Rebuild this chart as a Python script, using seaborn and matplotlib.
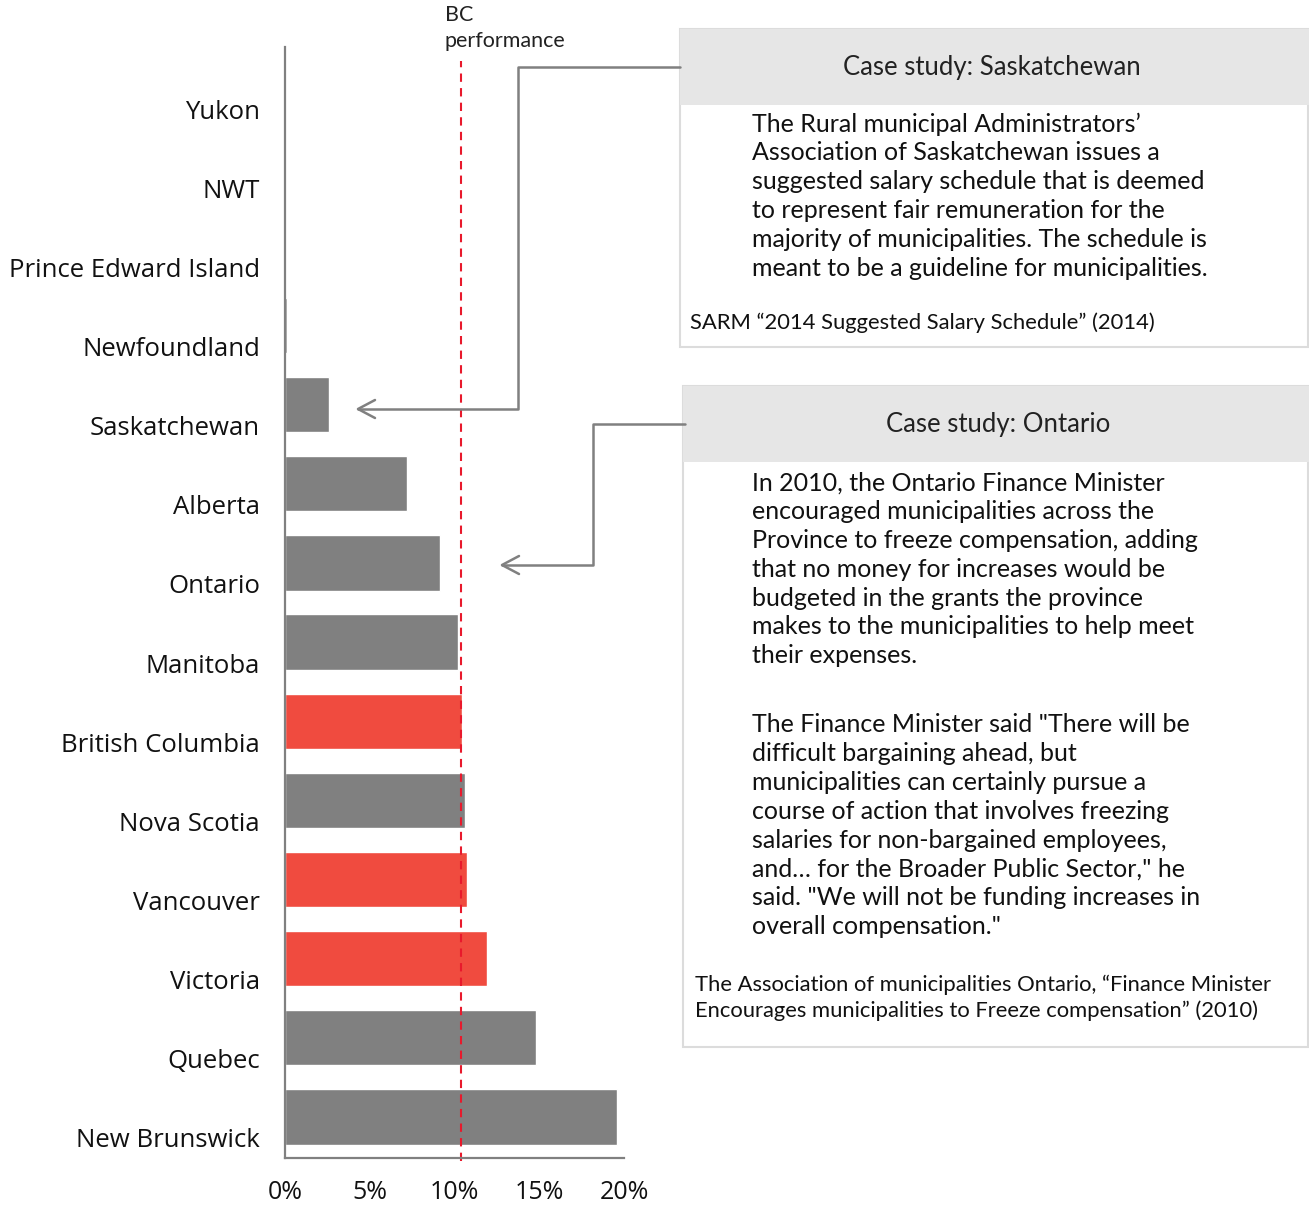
import numpy as np
import pandas as pd
import matplotlib
matplotlib.use('Agg')
import matplotlib.pyplot as plt
import matplotlib.transforms as mtransforms
from matplotlib.patches import Rectangle
from matplotlib.lines import Line2D
import seaborn as sns

# Data (share, %)
regions = ['Yukon', 'NWT', 'Prince Edward Island', 'Newfoundland', 'Saskatchewan',
           'Alberta', 'Ontario', 'Manitoba', 'British Columbia', 'Nova Scotia',
           'Vancouver', 'Victoria', 'Quebec', 'New Brunswick']
values = [0, 0, 0, 0.1, 2.6, 7.2, 9.15, 10.2, 10.45, 10.6, 10.75, 11.9, 14.8, 19.6]
bc_group = ['British Columbia', 'Vancouver', 'Victoria']
bc_performance = 10.4
x_ticks = [0, 5, 10, 15, 20]

sask_title = 'Case study: Saskatchewan'
sask_lines = ["The Rural municipal Administrators\u2019",
              'Association of Saskatchewan issues a',
              'suggested salary schedule that is deemed',
              'to represent fair remuneration for the',
              'majority of municipalities. The schedule is',
              'meant to be a guideline for municipalities.']
sask_source = ['SARM \u201c2014 Suggested Salary Schedule\u201d (2014)']

ont_title = 'Case study: Ontario'
ont_para1 = ['In 2010, the Ontario Finance Minister',
             'encouraged municipalities across the',
             'Province to freeze compensation, adding',
             'that no money for increases would be',
             'budgeted in the grants the province',
             'makes to the municipalities to help meet',
             'their expenses.']
ont_para2 = ['The Finance Minister said "There will be',
             'difficult bargaining ahead, but',
             'municipalities can certainly pursue a',
             'course of action that involves freezing',
             'salaries for non-bargained employees,',
             'and\u2026 for the Broader Public Sector," he',
             'said. "We will not be funding increases in',
             'overall compensation."']
ont_source = ['The Association of municipalities Ontario, \u201cFinance Minister',
              'Encourages municipalities to Freeze compensation\u201d (2010)']

df = pd.DataFrame({'region': regions, 'value': values})
df['group'] = np.where(df['region'].isin(bc_group), 'BC', 'Other')

sns.set_style('white')
plt.rcParams['font.family'] = ['Lato', 'DejaVu Sans']

W, H = 1309, 1205
fig = plt.figure(figsize=(W / 100, H / 100), dpi=100)
ax = fig.add_axes([285 / W, 1 - 1158 / H, (624 - 285) / W, (1158 - 47) / H])

sns.barplot(data=df, y='region', x='value', hue='group', orient='h',
            palette={'BC': '#f04b3f', 'Other': '#808080'}, width=0.7,
            dodge=False, legend=False, saturation=1, ax=ax)

ax.set_xlim(0, 20)
ax.set_ylim(len(regions) - 0.48, -0.52)
ax.set_xticks(x_ticks)
ax.set_xticklabels([f'{t}%' for t in x_ticks])
ax.set_xlabel('')
ax.set_ylabel('')
ax.tick_params(axis='both', length=0, labelsize=18, colors='#111111')
ax.tick_params(axis='y', pad=18, labelsize=18.5)
ax.tick_params(axis='x', pad=16)
for lbl in ax.get_xticklabels() + ax.get_yticklabels():
    lbl.set_fontfamily(['Open Sans', 'DejaVu Sans'])
for s in ['top', 'right']:
    ax.spines[s].set_visible(False)
for s in ['left', 'bottom']:
    ax.spines[s].set_color('#808080')
    ax.spines[s].set_linewidth(1.6)

# category labels sit a bit below their bars
shift = mtransforms.ScaledTranslation(0, -0.21, fig.dpi_scale_trans)
for lbl in ax.get_yticklabels():
    lbl.set_transform(lbl.get_transform() + shift)

# BC performance reference line
ax.axvline(bc_performance, ymin=-0.003, ymax=0.987, color='#e8192c',
           linestyle=(0, (4, 3)), linewidth=1.5, clip_on=False)
fig.text(445 / W, 1 - 15 / H, 'BC', fontsize=15.5, va='center', ha='left', color='#222222')
fig.text(445 / W, 1 - 41 / H, 'performance', fontsize=15.5, va='center', ha='left', color='#222222')


def fx(px):
    return px / W


def fy(py):
    return 1 - py / H


def box(x0, y0, y1, yh, title, title_x):
    fig.patches.append(Rectangle((fx(x0), fy(y1)), fx(W - 1) - fx(x0), fy(y0) - fy(y1),
                                 transform=fig.transFigure, facecolor='white',
                                 edgecolor='#dcdcdc', linewidth=1.5))
    fig.patches.append(Rectangle((fx(x0), fy(yh)), fx(W) - fx(x0), fy(y0) - fy(yh),
                                 transform=fig.transFigure, facecolor='#e6e6e6',
                                 edgecolor='none'))
    fig.text(fx(title_x), fy((y0 + yh) / 2), title, fontsize=18.5, ha='center',
             va='center', color='#222222')


def lines(x, y, rows, step, size):
    for i, r in enumerate(rows):
        fig.text(fx(x), fy(y + i * step), r, fontsize=size, ha='left',
                 va='center', color='#111111')


box(680, 29, 347, 105, sask_title, 992)
lines(752, 124, sask_lines, 28.8, 18)
lines(690, 323, sask_source, 26, 15.8)

box(683, 386, 1047, 462, ont_title, 998)
lines(752, 483, ont_para1, 28.8, 18)
lines(752, 725, ont_para2, 28.8, 18)
lines(695, 985, ont_source, 26, 15.8)


def callout(pts, tip):
    xs = [fx(p[0]) for p in pts]
    ys = [fy(p[1]) for p in pts]
    fig.add_artist(Line2D(xs, ys, transform=fig.transFigure, color='#808080', linewidth=1.8))
    fig.add_artist(Line2D([fx(tip[0] + 17), fx(tip[0]), fx(tip[0] + 17)],
                          [fy(tip[1] - 9), fy(tip[1]), fy(tip[1] + 9)],
                          transform=fig.transFigure, color='#808080', linewidth=1.8))


callout([(680, 67), (518, 67), (518, 409), (358, 409)], (358, 409))
callout([(685, 424), (593, 424), (593, 565), (502, 565)], (502, 565))

fig.savefig('out.png', dpi=100)
